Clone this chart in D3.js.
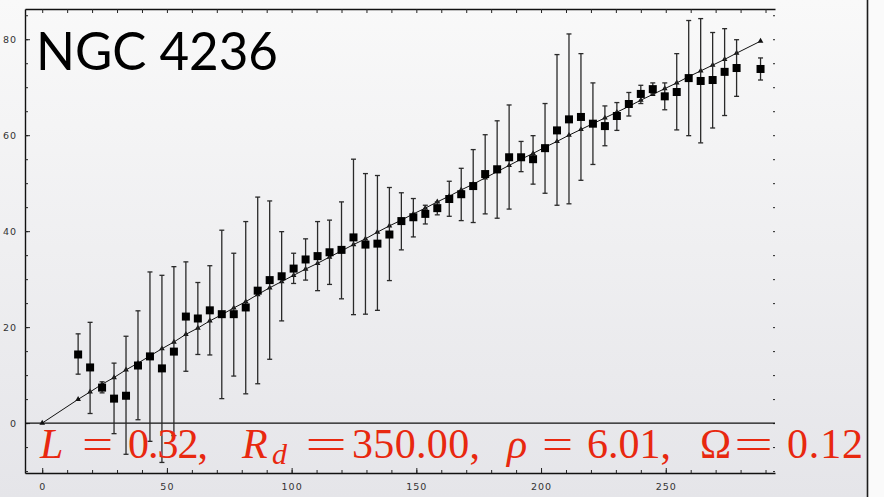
<!DOCTYPE html>
<html>
<head>
<meta charset="utf-8">
<script src="https://cdn.jsdelivr.net/npm/d3@7"></script>
<style>
  html, body { margin: 0; padding: 0; background: #f5f5f6; }
  svg { display: block; }
</style>
</head>
<body>
<svg id="chart" width="884" height="497"></svg>
<script>
// ---------- DATA ----------
const radii = [14.4, 19.2, 24.0, 28.8, 33.6, 38.4, 43.2, 48.0, 52.8, 57.6, 62.4, 67.2, 72.0, 76.8, 81.6, 86.4, 91.2, 96.0, 100.8, 105.6, 110.4, 115.2, 120.0, 124.8, 129.6, 134.4, 139.2, 144.0, 148.8, 153.6, 158.4, 163.2, 168.0, 172.8, 177.6, 182.4, 187.2, 192.0, 196.8, 201.6, 206.4, 211.2, 216.0, 220.8, 225.6, 230.4, 235.2, 240.0, 244.8, 249.6, 254.4, 259.2, 264.0, 268.8, 273.6, 278.4, 288.0];
const observed = [14.3, 11.6, 7.4, 5.1, 5.7, 12.0, 13.9, 11.4, 14.9, 22.2, 21.8, 23.5, 22.7, 22.7, 24.1, 27.6, 29.8, 30.6, 32.2, 34.1, 34.8, 35.6, 36.1, 38.7, 37.2, 37.4, 39.3, 42.1, 42.9, 43.6, 44.8, 46.7, 47.7, 49.4, 51.9, 52.9, 55.4, 55.4, 55.0, 57.3, 61.0, 63.3, 63.8, 62.4, 61.9, 64.0, 66.5, 68.6, 69.6, 68.1, 69.0, 71.9, 71.3, 71.5, 73.2, 74.0, 73.8];
const errUpper = [18.6, 21.0, 8.6, 12.5, 18.1, 23.4, 31.5, 30.8, 32.6, 33.6, 29.3, 32.8, 40.2, 35.4, 42.0, 47.1, 46.3, 39.9, 35.4, 38.4, 42.0, 42.3, 46.1, 55.0, 52.0, 51.6, 49.1, 48.0, 46.8, 45.4, 46.1, 50.4, 53.1, 57.0, 60.1, 63.0, 66.3, 58.7, 59.9, 66.6, 76.8, 81.1, 77.0, 70.9, 66.1, 66.8, 68.9, 70.4, 70.9, 70.9, 77.0, 83.9, 84.3, 81.4, 82.2, 79.9, 76.1];
const errLower = [10.2, 2.0, 6.3, -2.2, -6.5, 0.7, -3.8, -8.2, -2.6, 10.8, 14.3, 14.2, 5.1, 9.8, 6.1, 8.2, 13.3, 21.3, 29.1, 29.8, 27.6, 28.9, 25.9, 22.6, 22.7, 23.5, 29.7, 36.1, 38.8, 41.5, 43.4, 43.1, 42.2, 41.8, 43.6, 42.7, 44.6, 52.4, 49.8, 47.9, 45.4, 45.7, 50.6, 53.9, 57.8, 61.0, 64.0, 66.6, 68.6, 65.3, 61.1, 59.9, 58.4, 61.5, 64.1, 68.1, 71.5];
const modelRadii = [0, 14.4, 19.2, 24.0, 28.8, 33.6, 38.4, 43.2, 48.0, 52.8, 57.6, 62.4, 67.2, 72.0, 76.8, 81.6, 86.4, 91.2, 96.0, 100.8, 105.6, 110.4, 115.2, 120.0, 124.8, 129.6, 134.4, 139.2, 144.0, 148.8, 153.6, 158.4, 163.2, 168.0, 172.8, 177.6, 182.4, 187.2, 192.0, 196.8, 201.6, 206.4, 211.2, 216.0, 220.8, 225.6, 230.4, 235.2, 240.0, 244.8, 249.6, 254.4, 259.2, 264.0, 268.8, 273.6, 278.4, 288.0];
const modelValues = [0, 4.95, 6.5, 8.1, 9.5, 11.1, 12.5, 14.0, 15.5, 16.9, 18.5, 19.8, 21.3, 22.6, 24.0, 25.3, 26.8, 28.2, 29.5, 30.8, 32.1, 33.3, 34.6, 35.9, 37.2, 38.4, 39.8, 41.1, 42.3, 43.6, 44.8, 46.1, 47.3, 48.6, 49.8, 51.1, 52.4, 53.7, 55.0, 56.2, 57.5, 58.7, 60.0, 61.2, 62.4, 63.6, 64.8, 66.0, 67.3, 68.5, 69.7, 70.9, 72.2, 73.4, 74.6, 75.8, 77.1, 79.6];
const xTickLabels = [0, 50, 100, 150, 200, 250];
const yTickLabels = [0, 20, 40, 60, 80];
const titleText = "NGC 4236";
const formulaParts = [
  {t: "L", italic: true},
  {t: "=", op: true},
  {t: "0.32,"},
  {t: "R", italic: true},
  {t: "d", italic: true, sub: true},
  {t: "=", op: true},
  {t: "350.00,"},
  {t: "ρ", italic: true},
  {t: "=", op: true},
  {t: "6.01,"},
  {t: "Ω"},
  {t: "=", op: true},
  {t: "0.12"}
];

// ---------- LAYOUT ----------
const W = 884, H = 497;
const plot = {left: 25, right: 775, top: 9, bottom: 473};
const svg = d3.select("#chart");

const defs = svg.append("defs");
const grad = defs.append("linearGradient").attr("id", "bg").attr("x1", 0).attr("y1", 0).attr("x2", 0).attr("y2", 1);
grad.append("stop").attr("offset", "0%").attr("stop-color", "#f9f9f9");
grad.append("stop").attr("offset", "100%").attr("stop-color", "#e5e5e9");
svg.append("rect").attr("width", W).attr("height", H).attr("fill", "url(#bg)");
svg.append("rect").attr("x", 868).attr("width", W - 868).attr("height", H).attr("fill", "#fafafa");
svg.append("line").attr("x1", 867.5).attr("x2", 867.5).attr("y1", 0).attr("y2", H)
  .attr("stroke", "#1c1c1c").attr("stroke-width", 1.6);

const x = d3.scaleLinear().domain([-6.9, 293.8]).range([plot.left, plot.right]);
const y = d3.scaleLinear().domain([-10.4, 86.3]).range([plot.bottom, plot.top]);

const axisFont = "'DejaVu Sans', sans-serif";
function styleAxis(g) {
  g.selectAll("line").attr("stroke", "#222").attr("stroke-width", 1);
  g.selectAll("path.domain").attr("stroke", "#111").attr("stroke-width", 1.4);
  g.selectAll("text").attr("fill", "#333").style("font-family", axisFont)
    .style("font-size", "9.5px").style("letter-spacing", "1px");
}

// minor ticks
const yMinor = d3.range(-10, 86, 5);
const xMinor = d3.range(0, 291, 10);

// left axis
svg.append("g").attr("transform", `translate(${plot.left},0)`)
  .call(d3.axisLeft(y).tickValues(yMinor).tickSize(-3).tickSizeOuter(0).tickFormat(""))
  .call(g => styleAxis(g));
svg.append("g").attr("transform", `translate(${plot.left},0)`)
  .call(d3.axisLeft(y).tickValues(yTickLabels).tickSize(-5).tickSizeOuter(0).tickPadding(8).tickFormat(d3.format("d")))
  .call(g => { g.select("path.domain").remove(); styleAxis(g); });

// right ticks (no line)
svg.append("g").attr("transform", `translate(${plot.right},0)`)
  .call(d3.axisRight(y).tickValues(yMinor).tickSize(-2).tickFormat(""))
  .call(g => { g.select("path.domain").remove(); styleAxis(g); });

// bottom axis
svg.append("g").attr("transform", `translate(0,${plot.bottom})`)
  .call(d3.axisBottom(x).tickValues(xMinor).tickSize(-3).tickSizeOuter(0).tickFormat(""))
  .call(g => styleAxis(g));
svg.append("g").attr("transform", `translate(0,${plot.bottom})`)
  .call(d3.axisBottom(x).tickValues(xTickLabels).tickSize(-5).tickSizeOuter(0).tickPadding(10).tickFormat(d3.format("d")))
  .call(g => { g.select("path.domain").remove(); styleAxis(g); });

// top axis
svg.append("g").attr("transform", `translate(0,${plot.top})`)
  .call(d3.axisTop(x).tickValues(xMinor).tickSize(-4).tickSizeOuter(0).tickFormat(""))
  .call(g => styleAxis(g));

// zero line
svg.append("line").attr("x1", plot.left).attr("x2", plot.right)
  .attr("y1", y(0)).attr("y2", y(0)).attr("stroke", "#111").attr("stroke-width", 1.4);

// model curve
const model = modelRadii.map((r, i) => ({r, v: modelValues[i]}));
svg.append("path").datum(model)
  .attr("d", d3.line().x(d => x(d.r)).y(d => y(d.v)))
  .attr("fill", "none").attr("stroke", "#111").attr("stroke-width", 1);
svg.append("g").selectAll("path").data(model).join("path")
  .attr("d", d3.symbol(d3.symbolTriangle, 14))
  .attr("transform", d => `translate(${x(d.r)},${y(d.v)})`)
  .attr("fill", "#111");

// observations
const obs = radii.map((r, i) => ({r, v: observed[i], hi: errUpper[i], lo: errLower[i]}));
const eb = svg.append("g").attr("stroke", "#2a2a2a").attr("stroke-width", 1.3);
eb.selectAll("line.bar").data(obs).join("line").attr("class", "bar")
  .attr("x1", d => x(d.r)).attr("x2", d => x(d.r))
  .attr("y1", d => y(d.hi)).attr("y2", d => y(d.lo));
eb.selectAll("line.capt").data(obs).join("line").attr("class", "capt")
  .attr("x1", d => x(d.r) - 2.5).attr("x2", d => x(d.r) + 2.5)
  .attr("y1", d => y(d.hi)).attr("y2", d => y(d.hi));
eb.selectAll("line.capb").data(obs).join("line").attr("class", "capb")
  .attr("x1", d => x(d.r) - 2.5).attr("x2", d => x(d.r) + 2.5)
  .attr("y1", d => y(d.lo)).attr("y2", d => y(d.lo));
svg.append("g").selectAll("rect").data(obs).join("rect")
  .attr("x", d => x(d.r) - 4).attr("y", d => y(d.v) - 4)
  .attr("width", 8).attr("height", 8).attr("fill", "#000");

// title
svg.append("text").attr("x", 36).attr("y", 70)
  .attr("textLength", 242).attr("lengthAdjust", "spacingAndGlyphs")
  .style("font-family", "Lato, 'Open Sans', sans-serif").style("font-size", "53px")
  .attr("fill", "#000").text(titleText);

// formula
const fx = [40, 82, 128, 242, 272, 305, 352, 507, 542, 587, 700, 734, 787];
const fw = [30, 31, 80, 0, 0, 42, 128, 0, 31, 84, 0, 39, 76];
const ft = svg.append("g").style("font-family", "'Liberation Serif', 'DejaVu Serif', serif")
  .attr("fill", "#e8280f");
formulaParts.forEach((p, i) => {
  const t = ft.append("text").attr("x", fx[i]).attr("y", p.sub ? 464 : 458)
    .style("font-size", p.sub ? "30px" : "42px")
    .style("font-style", p.italic ? "italic" : "normal")
    .text(p.t);
  if (fw[i] > 0 && (p.op || !p.italic)) t.attr("textLength", fw[i]).attr("lengthAdjust", p.op ? "spacingAndGlyphs" : "spacing");
});
</script>
</body>
</html>
